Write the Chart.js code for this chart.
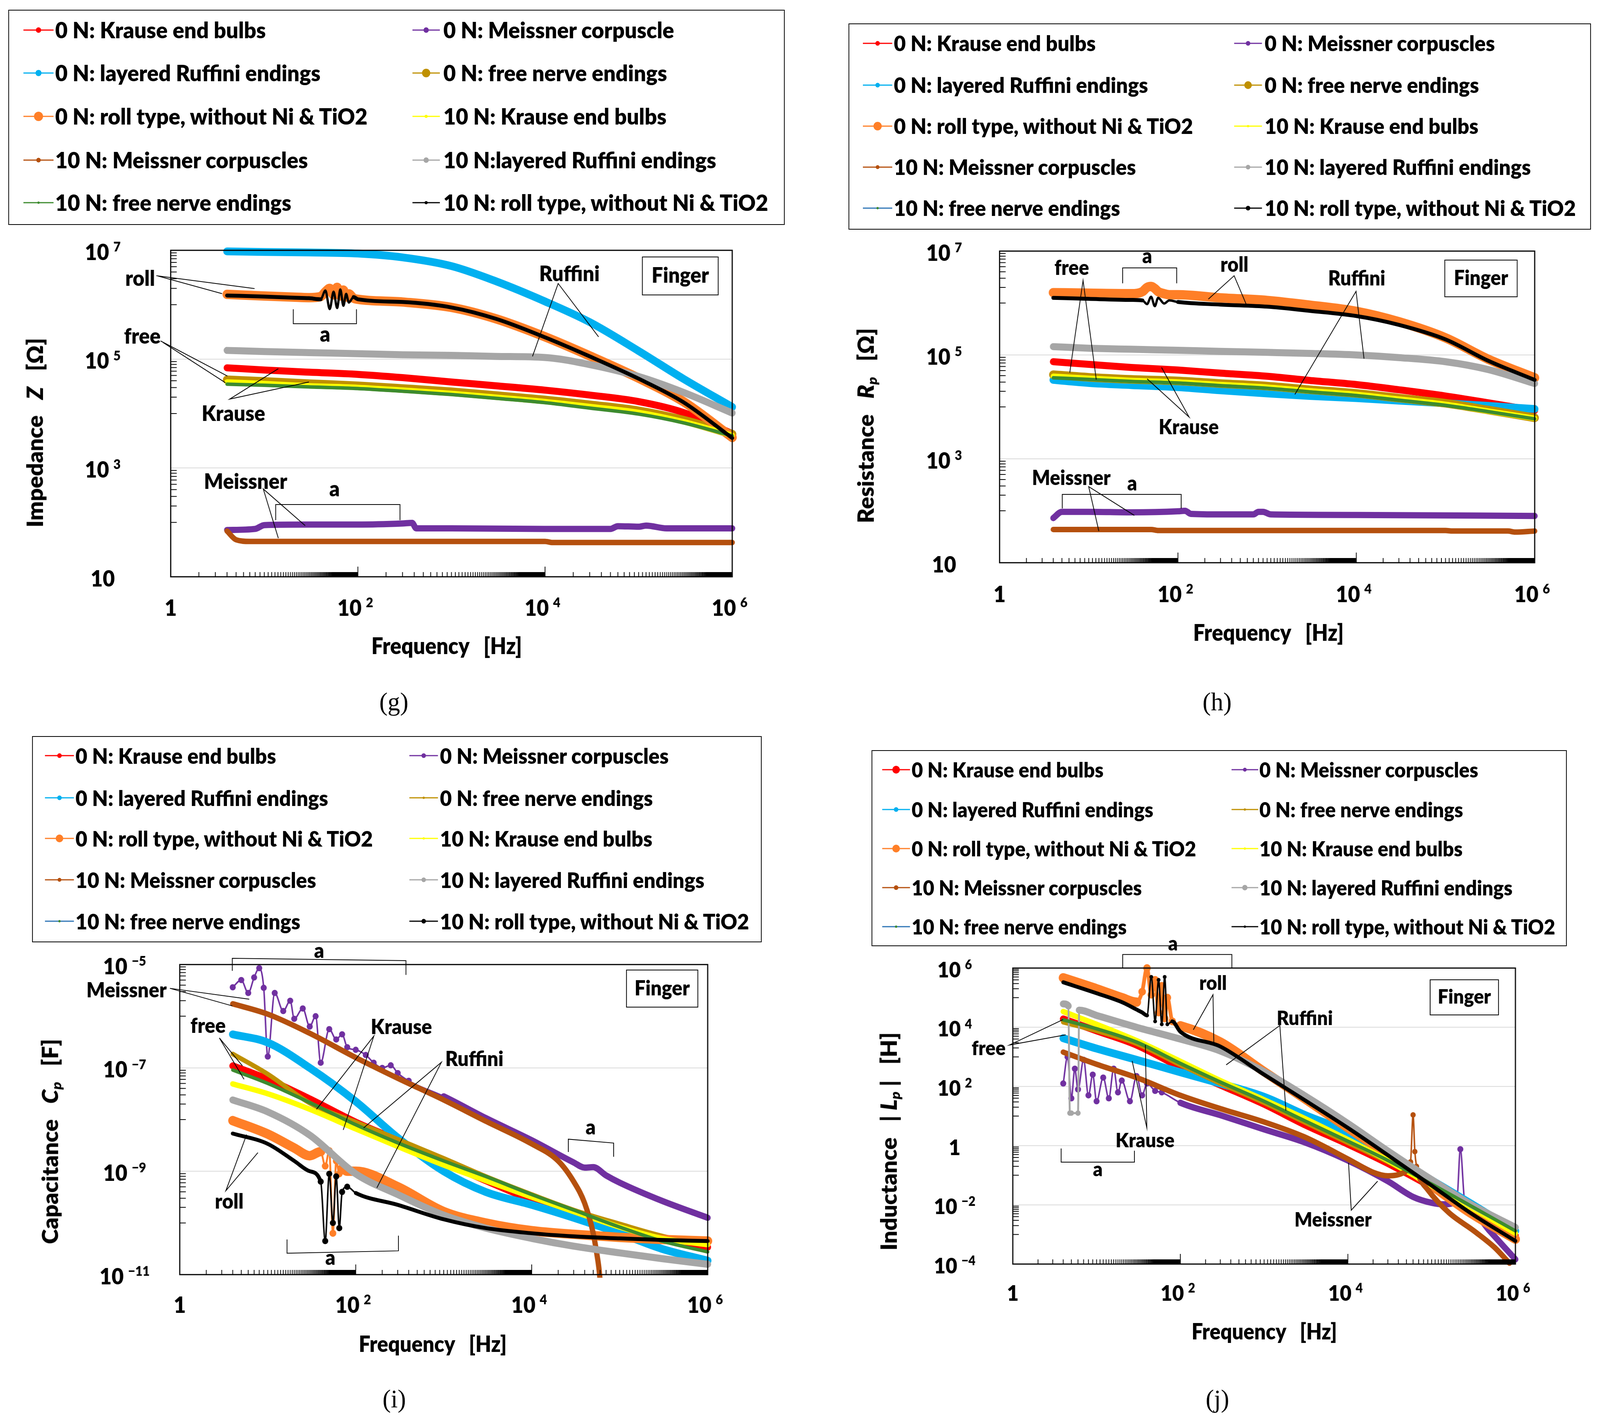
<!DOCTYPE html>
<html>
<head>
<meta charset="utf-8">
<title>Finger: impedance, resistance, capacitance, inductance</title>
<script src="https://cdn.jsdelivr.net/npm/chart.js@4.4.1/dist/chart.umd.min.js"></script>
<style>
html,body{margin:0;padding:0;background:#fff;overflow:hidden;}
#root{position:absolute;left:0;top:0;width:4237px;height:3644px;overflow:hidden;font-family:Lato,"Open Sans",sans-serif;color:#000;transform-origin:0 0;background:#fff;}
canvas{position:absolute;}
.lbox{position:absolute;border:2px solid #000;box-sizing:border-box;}
.ltxt{position:absolute;white-space:pre;font-weight:800;line-height:1;transform-origin:0 50%;}
.ctxt{position:absolute;white-space:pre;font-weight:800;line-height:1;}
.plabel{position:absolute;font-family:"Liberation Serif","DejaVu Serif",serif;font-size:66px;line-height:1;transform:translate(-50%,-50%);}
sub{font-size:0.62em;vertical-align:-0.22em;}
</style>
</head>
<body>
<div id="root"></div>
<script>
// ================= DATA =================
// All series values are log10 of the plotted quantity.
const FREQ = [4, 10, 30, 100, 300, 1e3, 3e3, 1e4, 3e4, 1e5, 3e5, 1e6];   // Hz

const X_TICKS = [1, 1e2, 1e4, 1e6];
const X_TICK_EXP = [0, 2, 4, 6];
const Y_TICKS_GH = [1e7, 1e5, 1e3, 1e1];
const Y_TICK_EXP_GH = [7, 5, 3, 1];
const Y_TICKS_I = [1e-5, 1e-7, 1e-9, 1e-11];
const Y_TICK_EXP_I = [-5, -7, -9, -11];
const Y_TICKS_J = [1e6, 1e4, 1e2, 1, 1e-2, 1e-4];
const Y_TICK_EXP_J = [6, 4, 2, 0, -2, -4];

const LABELS_G = ["0 N: Krause end bulbs", "0 N: Meissner corpuscle", "0 N: layered Ruffini endings", "0 N: free nerve endings",
  "0 N: roll type, without Ni & TiO2", "10 N: Krause end bulbs", "10 N: Meissner corpuscles", "10 N:layered Ruffini endings",
  "10 N: free nerve endings", "10 N: roll type, without Ni & TiO2"];
const LABELS_HIJ = ["0 N: Krause end bulbs", "0 N: Meissner corpuscles", "0 N: layered Ruffini endings", "0 N: free nerve endings",
  "0 N: roll type, without Ni & TiO2", "10 N: Krause end bulbs", "10 N: Meissner corpuscles", "10 N: layered Ruffini endings",
  "10 N: free nerve endings", "10 N: roll type, without Ni & TiO2"];

// ---------- (g) Impedance Z [Ohm] ----------
const G_KRAUSE_0 = [4.84, 4.80, 4.76, 4.72, 4.66, 4.58, 4.51, 4.43, 4.34, 4.22, 4.02, 3.63];
const G_MEISS_0_F = [4, 8, 10, 30, 100, 300, 380, 420, 1e3, 1e4, 5e4, 6e4, 1e5, 1.2e5, 2e5, 1e6];
const G_MEISS_0 = [1.86, 1.88, 1.95, 1.96, 1.96, 1.98, 1.99, 1.89, 1.89, 1.88, 1.88, 1.93, 1.92, 1.94, 1.89, 1.89];
const G_RUFF_0 = [6.98, 6.97, 6.96, 6.94, 6.87, 6.71, 6.43, 6.06, 5.68, 5.15, 4.64, 4.12];
const G_FREE_0 = [4.62, 4.59, 4.55, 4.51, 4.46, 4.40, 4.33, 4.25, 4.16, 4.05, 3.88, 3.62];
const G_ROLL_F = [4, 10, 20, 30, 40, 45, 50, 55, 60, 65, 70, 75, 80, 90, 100, 300, 1e3, 3e3, 1e4, 3e4, 1e5, 3e5, 1e6];
const G_ROLL_0 = [6.19, 6.16, 6.14, 6.13, 6.15, 6.24, 6.30, 6.18, 6.32, 6.16, 6.27, 6.14, 6.20, 6.12, 6.10, 6.05, 5.95, 5.74, 5.41, 5.06, 4.65, 4.22, 3.56];
const G_KRAUSE_10 = [4.58, 4.55, 4.51, 4.48, 4.43, 4.37, 4.30, 4.22, 4.13, 4.02, 3.85, 3.60];
const G_MEISS_10_F = [4, 5, 7, 100, 1e4, 1.2e4, 1e6];
const G_MEISS_10 = [1.84, 1.68, 1.65, 1.65, 1.65, 1.63, 1.63];
const G_RUFF_10 = [5.16, 5.14, 5.12, 5.10, 5.08, 5.07, 5.05, 5.03, 4.90, 4.68, 4.39, 4.01];
const G_FREE_10 = [4.54, 4.52, 4.49, 4.46, 4.41, 4.35, 4.28, 4.20, 4.10, 3.99, 3.83, 3.59];
const G_ROLL_10 = [6.17, 6.15, 6.13, 6.12, 6.10, 6.26, 5.92, 6.24, 5.94, 6.28, 5.98, 6.20, 6.04, 6.14, 6.10, 6.05, 5.95, 5.74, 5.40, 5.05, 4.64, 4.21, 3.55];

// ---------- (h) Resistance Rp [Ohm] ----------
const H_KRAUSE_0 = [4.87, 4.82, 4.76, 4.71, 4.65, 4.59, 4.51, 4.43, 4.33, 4.21, 4.08, 3.93];
const H_MEISS_0_F = [4, 5, 10, 30, 100, 120, 140, 300, 700, 800, 900, 1100, 1e4, 1e6];
const H_MEISS_0 = [1.86, 1.98, 1.98, 1.97, 1.99, 2.00, 1.94, 1.93, 1.93, 1.98, 1.98, 1.93, 1.92, 1.90];
const H_RUFF_0 = [4.52, 4.46, 4.42, 4.38, 4.32, 4.26, 4.21, 4.17, 4.12, 4.07, 4.02, 3.96];
const H_FREE_0 = [4.62, 4.57, 4.53, 4.50, 4.45, 4.40, 4.33, 4.26, 4.17, 4.07, 3.94, 3.79];
const H_ROLL_F = [4, 10, 30, 40, 45, 50, 55, 60, 70, 80, 100, 300, 1e3, 3e3, 1e4, 3e4, 1e5, 3e5, 1e6];
const H_ROLL_0 = [6.20, 6.19, 6.18, 6.22, 6.30, 6.32, 6.28, 6.22, 6.18, 6.16, 6.16, 6.10, 6.05, 5.96, 5.84, 5.64, 5.33, 4.92, 4.56];
const H_KRAUSE_10 = [4.59, 4.55, 4.51, 4.48, 4.43, 4.38, 4.31, 4.24, 4.15, 4.05, 3.92, 3.78];
const H_MEISS_10_F = [4, 50, 60, 1e5, 1.2e5, 5e5, 6e5, 1e6];
const H_MEISS_10 = [1.64, 1.64, 1.62, 1.62, 1.61, 1.61, 1.59, 1.61];
const H_RUFF_10 = [5.16, 5.13, 5.11, 5.09, 5.07, 5.05, 5.03, 5.00, 4.95, 4.87, 4.72, 4.45];
const H_FREE_10 = [4.56, 4.53, 4.49, 4.46, 4.41, 4.36, 4.29, 4.22, 4.13, 4.03, 3.91, 3.77];
const H_ROLL_10 = [6.10, 6.08, 6.06, 6.05, 5.98, 6.12, 5.94, 6.10, 5.99, 6.05, 6.02, 5.97, 5.93, 5.85, 5.75, 5.58, 5.30, 4.89, 4.52];

// ---------- (i) Capacitance Cp [F] ----------
const I_KRAUSE_0 = [-6.96, -7.22, -7.60, -8.05, -8.40, -8.82, -9.18, -9.55, -9.82, -10.07, -10.30, -10.47];
const I_MEISS_0_F = [4, 5, 6, 7, 8, 9, 10, 12, 15, 18, 20, 25, 30, 35, 40, 50, 60, 70, 80, 100, 130, 160, 200, 250, 300, 400, 1e3, 3e3, 1e4, 3e4, 4e4, 5e4, 7e4, 1e5, 3e5, 1e6];
const I_MEISS_0 = [-5.44, -5.30, -5.55, -5.25, -5.07, -5.45, -6.78, -5.55, -5.90, -5.70, -6.05, -5.85, -6.20, -6.00, -6.90, -6.25, -6.45, -6.35, -6.60, -6.65, -6.75, -6.90, -7.00, -6.95, -7.10, -7.25, -7.55, -7.97, -8.40, -8.83, -8.93, -8.92, -9.08, -9.22, -9.57, -9.90];
const I_RUFF_0 = [-6.35, -6.51, -7.00, -7.65, -8.35, -9.00, -9.40, -9.65, -9.90, -10.20, -10.50, -10.73];
const I_FREE_0 = [-6.73, -7.12, -7.68, -8.05, -8.38, -8.75, -9.10, -9.45, -9.75, -10.02, -10.25, -10.43];
const I_ROLL_F = [4, 10, 20, 30, 40, 45, 50, 55, 60, 65, 70, 80, 100, 300, 1e3, 3e3, 1e4, 3e4, 1e5, 3e5, 1e6];
const I_ROLL_0 = [-8.02, -8.28, -8.55, -8.70, -8.62, -8.90, -8.60, -10.20, -8.80, -9.05, -8.95, -9.00, -9.00, -9.30, -9.78, -10.00, -10.15, -10.22, -10.28, -10.32, -10.35];
const I_KRAUSE_10 = [-7.31, -7.50, -7.80, -8.18, -8.52, -8.88, -9.18, -9.50, -9.78, -10.08, -10.30, -10.42];
const I_MEISS_10_F = [4, 10, 30, 100, 300, 1e3, 3e3, 1e4, 2e4, 3e4, 4e4, 5e4, 5.5e4, 5.8e4, 6.2e4];
const I_MEISS_10 = [-5.76, -5.96, -6.33, -6.80, -7.20, -7.62, -8.03, -8.47, -8.80, -9.20, -9.62, -10.20, -10.60, -10.87, -11.40];
const I_RUFF_10 = [-7.62, -7.85, -8.30, -9.05, -9.45, -9.85, -10.10, -10.30, -10.45, -10.58, -10.69, -10.80];
const I_FREE_10 = [-7.04, -7.30, -7.67, -8.10, -8.45, -8.80, -9.10, -9.45, -9.75, -10.08, -10.35, -10.56];
const I_ROLL_10 = [-8.27, -8.47, -8.80, -9.00, -9.20, -10.35, -9.05, -10.00, -9.10, -10.10, -9.40, -9.30, -9.42, -9.65, -9.93, -10.10, -10.20, -10.26, -10.30, -10.33, -10.35];

// ---------- (j) Inductance |Lp| [H] ----------
const J_KRAUSE_0 = [4.28, 3.88, 3.40, 2.65, 2.05, 1.40, 0.72, 0.05, -0.60, -1.40, -2.20, -3.04];
const J_MEISS_0_F = [4, 4.5, 5, 5.5, 6, 7, 8, 9, 10, 12, 14, 16, 18, 20, 25, 30, 35, 40, 50, 60, 100, 300, 1e3, 3e3, 1e4, 3e4, 6e4, 1e5, 1.4e5, 2e5, 2.2e5, 2.5e5, 3e5, 5e5, 1e6];
const J_MEISS_0 = [2.10, 3.00, 1.60, 2.60, 1.90, 2.90, 1.70, 2.40, 1.50, 2.30, 1.60, 2.60, 1.80, 2.20, 1.50, 2.35, 1.70, 2.10, 1.85, 1.80, 1.45, 1.03, 0.55, 0.12, -0.50, -1.20, -1.73, -1.93, -1.98, -1.85, -0.12, -2.00, -2.20, -2.90, -3.84];
const J_RUFF_0 = [3.63, 3.28, 2.90, 2.48, 2.10, 1.65, 1.05, 0.45, -0.30, -1.17, -1.97, -2.88];
const J_FREE_0 = [4.17, 3.88, 3.45, 2.73, 2.10, 1.45, 0.80, 0.10, -0.55, -1.35, -2.10, -2.92];
const J_ROLL_F = [4, 10, 20, 30, 35, 40, 45, 50, 55, 60, 65, 70, 80, 100, 300, 1e3, 3e3, 1e4, 3e4, 1e5, 3e5, 1e6];
const J_ROLL_0 = [5.67, 5.30, 5.00, 4.85, 5.20, 6.00, 5.10, 5.60, 4.50, 5.40, 4.30, 5.00, 4.20, 4.05, 3.50, 2.50, 1.60, 0.60, -0.30, -1.35, -2.30, -3.16];
const J_KRAUSE_10 = [4.53, 4.10, 3.55, 2.85, 2.20, 1.55, 0.93, 0.20, -0.50, -1.35, -2.10, -2.96];
const J_MEISS_10_F = [4, 10, 30, 100, 300, 1e3, 3e3, 1e4, 2e4, 3e4, 4e4, 5e4, 5.6e4, 6e4, 6.3e4, 6.6e4, 7e4, 9e4, 1.6e5, 3.2e5, 5.6e5, 8.5e5];
const J_MEISS_10 = [3.16, 2.75, 2.30, 1.70, 1.25, 0.80, 0.30, -0.45, -0.90, -1.02, -0.98, -0.85, -0.55, 1.04, -0.20, -0.70, -1.00, -1.49, -2.26, -2.88, -3.43, -3.97];
const J_RUFF_10_F = [4, 4.6, 4.8, 5.0, 6.0, 6.2, 10, 30, 100, 300, 1e3, 3e3, 1e4, 3e4, 1e5, 3e5, 1e6];
const J_RUFF_10 = [4.79, 4.72, 1.10, 1.10, 1.10, 4.58, 4.40, 4.00, 3.60, 3.20, 2.50, 1.70, 0.75, -0.18, -1.15, -2.00, -2.76];
const J_FREE_10 = [4.25, 3.95, 3.50, 2.78, 2.15, 1.50, 0.85, 0.15, -0.50, -1.30, -2.05, -2.88];
const J_ROLL_10 = [5.52, 5.15, 4.85, 4.60, 4.50, 4.40, 5.70, 4.20, 5.60, 4.10, 5.70, 4.10, 4.20, 3.85, 3.35, 2.40, 1.55, 0.60, -0.32, -1.35, -2.30, -3.22];

// ================= STYLE =================
const KEYS = ['K0', 'M0', 'R0', 'F0', 'O0', 'K10', 'M10', 'R10', 'F10', 'O10'];
const COLORS = {K0:'#FF0000', M0:'#7030A0', R0:'#00B0F0', F0:'#BF9000', O0:'#FF7F27', K10:'#FFFF00', M10:'#B5500E', R10:'#A6A6A6', F10:'#3D8B2F', O10:'#000000'};
const WIDTHS = {K0:18, M0:16, R0:20, F0:22, O0:24, K10:14, M10:14, R10:18, F10:9, O10:10};
const FONT = 'Lato';
const W = 800;
const SX = 0.97;
const ROOT = document.getElementById('root');

function txt(ctx, s, x, y, fs, sx) {
  ctx.save(); ctx.translate(x, y); ctx.scale(sx, 1);
  ctx.font = W + ' ' + fs + 'px ' + FONT;
  ctx.textAlign = 'left'; ctx.textBaseline = 'alphabetic'; ctx.fillStyle = '#000';
  ctx.fillText(s, 0, 0); ctx.restore();
}
function width(ctx, s, fs) { ctx.font = W + ' ' + fs + 'px ' + FONT; return ctx.measureText(s).width; }
function txtC(ctx, s, cx, cy, fs, sx) {
  const w = width(ctx, s, fs) * sx;
  const k = (s === 'a') ? 0.26 : 0.36;
  txt(ctx, s, cx - w / 2, cy + fs * k, fs, sx);
}
function drawPow(ctx, exp, cx, cy, fs, sx) {
  let main = '10', sup = null;
  if (exp === 0) main = '1'; else if (exp !== 1) sup = exp < 0 ? '\u2212' + (-exp) : String(exp);
  const sfs = Math.round(fs * 0.6);
  const mw = width(ctx, main, fs) * sx;
  let sw = 0, gap = 0;
  if (sup) { sw = width(ctx, sup, sfs) * sx; gap = fs * 0.2; }
  const x0 = cx - (mw + gap + sw) / 2;
  const base = cy + fs * 0.36;
  txt(ctx, main, x0, base, fs, sx);
  if (sup) txt(ctx, sup, x0 + mw + gap, base - fs * 0.38, sfs, sx);
}

function panelPlugin(P) {
  return {
    id: 'panel_' + P.id,
    beforeDatasetsDraw(chart) {
      const {ctx, chartArea: a, scales: {y}} = chart;
      ctx.save(); ctx.strokeStyle = '#D9D9D9'; ctx.lineWidth = 2;
      P.grid.forEach(v => { const py = y.getPixelForValue(v); ctx.beginPath(); ctx.moveTo(a.left, py); ctx.lineTo(a.right, py); ctx.stroke(); });
      ctx.restore();
    },
    afterDatasetsDraw(chart) {
      const {ctx, chartArea: a, scales: {x, y}} = chart;
      const X = lf => x.getPixelForValue(Math.pow(10, lf));
      const Y = lv => y.getPixelForValue(Math.pow(10, lv));
      ctx.save();
      ctx.strokeStyle = '#000'; ctx.lineWidth = 2; ctx.beginPath();
      [1, 1e2, 1e4].forEach(b => {
        for (let k = 2; k <= 99; k++) { const px = x.getPixelForValue(k * b); ctx.moveTo(px, a.bottom); ctx.lineTo(px, a.bottom - 12); }
      });
      [1e2, 1e4].forEach(v => { const px = x.getPixelForValue(v); ctx.moveTo(px, a.bottom); ctx.lineTo(px, a.bottom - 26); });
      for (let L = P.ymin; L < P.ymax; L *= 100) {
        for (let k = 1; k <= 9; k++) { const py = y.getPixelForValue(k * L * 10); ctx.moveTo(a.left, py); ctx.lineTo(a.left + 16, py); }
      }
      ctx.stroke();
      ctx.lineWidth = 3; ctx.strokeRect(a.left, a.top, a.right - a.left, a.bottom - a.top);
      P.yt.forEach((v, i) => drawPow(ctx, P.ye[i], a.left - P.ylabX, y.getPixelForValue(v) + 4, P.tfs, SX));
      X_TICKS.forEach((v, i) => drawPow(ctx, X_TICK_EXP[i], x.getPixelForValue(v) - (X_TICK_EXP[i] ? P.tfs * 0.12 : 0), a.bottom + P.xlabDy, P.tfs, SX));
      ctx.lineWidth = 2; ctx.strokeStyle = '#000';
      P.ann.lines.forEach(pl => {
        ctx.beginPath();
        for (let i = 0; i < pl.length; i += 2) { const px = X(pl[i]), py = Y(pl[i + 1]); if (i === 0) ctx.moveTo(px, py); else ctx.lineTo(px, py); }
        ctx.stroke();
      });
      P.ann.texts.forEach(t => txtC(ctx, t[0], X(t[1]), Y(t[2]), P.afs, SX));
      const f = P.ann.finger;
      const fx0 = X(f[0]), fy0 = Y(f[1]), fx1 = X(f[2]), fy1 = Y(f[3]);
      ctx.fillStyle = '#fff'; ctx.fillRect(fx0, fy0, fx1 - fx0, fy1 - fy0);
      ctx.lineWidth = 2; ctx.strokeRect(fx0, fy0, fx1 - fx0, fy1 - fy0);
      txtC(ctx, 'Finger', (fx0 + fx1) / 2, (fy0 + fy1) / 2 - 2, P.afs, SX);
      ctx.restore();
    }
  };
}

function makeDataset(key, f, v, idx, P) {
  const data = f.map((fx, i) => ({x: fx, y: Math.pow(10, v[i])}));
  const c = COLORS[key];
  const w = (P.widths && P.widths[key]) || WIDTHS[key];
  const nz = P.noise && P.noise[key];
  const ds = {
    label: key, data: data, borderColor: c, backgroundColor: c, borderWidth: w,
    pointRadius: 0, pointHoverRadius: 0, pointBorderWidth: 0, pointBackgroundColor: c,
    cubicInterpolationMode: 'monotone', order: 9 - idx,
    borderCapStyle: 'round', borderJoinStyle: 'round',
    clip: {left: 30, right: 30, top: 10, bottom: 8}
  };
  if (nz) {
    const inR = fx => nz.r.some(r => fx >= r[0] && fx <= r[1]);
    const segIn = fx => nz.r.some(r => fx >= r[0] && fx < r[1]);
    ds.pointRadius = ctx => (ctx.raw && inR(ctx.raw.x)) ? (nz.pr || 0) : 0;
    ds.segment = { borderWidth: s => segIn(data[s.p0DataIndex].x) ? nz.tw : undefined };
  }
  return ds;
}

function makeLegend(L, labels) {
  const box = document.createElement('div'); box.className = 'lbox';
  box.style.left = L.box[0] + 'px'; box.style.top = L.box[1] + 'px';
  box.style.width = (L.box[2] - L.box[0]) + 'px'; box.style.height = (L.box[3] - L.box[1]) + 'px';
  ROOT.appendChild(box);
  const mc = document.createElement('canvas').getContext('2d');
  mc.font = W + ' ' + L.fs + 'px ' + FONT;
  const sx = L.target / mc.measureText('0 N: roll type, without Ni & TiO2').width;
  labels.forEach((lab, idx) => {
    const col = idx % 2, row = Math.floor(idx / 2);
    const cy = L.rows[row];
    const s = col ? L.sym2 : L.sym1;
    const sw = s[1] - s[0];
    const sym = L.syms[idx];
    const d = document.createElement('div');
    d.style.position = 'absolute'; d.style.left = s[0] + 'px'; d.style.top = (cy - 20) + 'px';
    d.innerHTML = '<svg width="' + sw + '" height="40"><line x1="0" y1="20" x2="' + sw + '" y2="20" stroke="' + sym[0] + '" stroke-width="3"/>' +
      '<circle cx="' + (sw / 2) + '" cy="20" r="' + sym[2] + '" fill="' + sym[1] + '"/></svg>';
    ROOT.appendChild(d);
    const t = document.createElement('div'); t.className = 'ltxt'; t.textContent = lab;
    t.style.left = (col ? L.tx2 : L.tx1) + 'px'; t.style.top = cy + 'px'; t.style.fontSize = L.fs + 'px';
    t.style.transform = 'translateY(-50%) scaleX(' + sx.toFixed(4) + ')';
    ROOT.appendChild(t);
  });
}

function htmlText(html, cx, cy, fs, rot, sx) {
  const d = document.createElement('div'); d.className = 'ctxt'; d.innerHTML = html;
  d.style.left = cx + 'px'; d.style.top = cy + 'px'; d.style.fontSize = fs + 'px';
  d.style.transform = 'translate(-50%,-50%)' + (rot ? ' rotate(-90deg)' : '') + ' scaleX(' + sx + ')';
  ROOT.appendChild(d);
}

const RED = '#FF0000', PUR = '#7030A0', CYA = '#00B0F0', GLD = '#BF9000', ORA = '#FF7F27', YEL = '#FFFF00', BRN = '#B5500E', GRY = '#A6A6A6', GRN = '#3D8B2F', BLU = '#2E75B6', BLK = '#000000';

const PANELS = [
  { id: 'g', canvas: [0, 590, 2118, 1040], plot: [452, 641, 1939, 1477], ymin: 1e1, ymax: 1e7, grid: [1e3, 1e5],
    yt: Y_TICKS_GH, ye: Y_TICK_EXP_GH, ylabX: 180, xlabDy: 79, tfs: 57, afs: 55,
    series: [[FREQ, G_KRAUSE_0], [G_MEISS_0_F, G_MEISS_0], [FREQ, G_RUFF_0], [FREQ, G_FREE_0], [G_ROLL_F, G_ROLL_0],
             [FREQ, G_KRAUSE_10], [G_MEISS_10_F, G_MEISS_10], [FREQ, G_RUFF_10], [FREQ, G_FREE_10], [G_ROLL_F, G_ROLL_10]],
    noise: { O10: {r: [[40, 85]], tw: 6, pr: 0} },
    labels: LABELS_G,
    legend: { box: [22, 25, 2078, 576], rows: [77, 187, 298, 410, 519], sym1: [62, 142], tx1: 146, sym2: [1092, 1165], tx2: 1174, fs: 56, target: 830,
      syms: [[RED, RED, 7], [PUR, PUR, 7], [CYA, CYA, 8], [GLD, GLD, 11], [ORA, ORA, 12], [YEL, YEL, 4], [BRN, BRN, 6], [GRY, GRY, 7], [GRN, GRN, 3], [BLK, BLK, 4]] },
    xt: [1183, 1653, 58], ytl: [92, 1108, 58, 'Impedance   <i>Z</i>   [Ω]'], lab: [1043, 1797, '(g)'],
    ann: {
      texts: [['roll', -0.327, 6.49], ['free', -0.303, 5.43], ['Krause', 0.67, 4.007], ['Ruffini', 4.26, 6.576], ['Meissner', 0.80, 2.757], ['a', 1.65, 5.42], ['a', 1.75, 2.58]],
      lines: [[-0.153, 6.533, 0.896, 6.296], [-0.133, 6.526, 0.549, 6.203], [-0.109, 5.335, 0.605, 4.69], [-0.081, 5.306, 0.585, 4.566],
              [1.15, 4.825, 0.63, 4.265, 1.477, 4.58], [3.866, 5.05, 4.14, 6.39, 4.572, 5.41], [1.15, 1.71, 0.989, 2.614, 1.437, 1.94],
              [1.31, 5.916, 1.31, 5.65, 1.985, 5.65, 1.985, 5.916], [1.122, 2.04, 1.122, 2.327, 2.45, 2.327, 2.45, 2.04]],
      finger: [5.04, 6.878, 5.85, 6.18] } },
  { id: 'h', canvas: [2118, 590, 2119, 1010], plot: [2647, 643, 4064, 1441], ymin: 1e1, ymax: 1e7, grid: [1e3, 1e5],
    yt: Y_TICKS_GH, ye: Y_TICK_EXP_GH, ylabX: 147, xlabDy: 80, tfs: 57, afs: 52,
    series: [[FREQ, H_KRAUSE_0], [H_MEISS_0_F, H_MEISS_0], [FREQ, H_RUFF_0], [FREQ, H_FREE_0], [H_ROLL_F, H_ROLL_0],
             [FREQ, H_KRAUSE_10], [H_MEISS_10_F, H_MEISS_10], [FREQ, H_RUFF_10], [FREQ, H_FREE_10], [H_ROLL_F, H_ROLL_10]],
    noise: { O10: {r: [[40, 85]], tw: 6, pr: 0} },
    labels: LABELS_HIJ,
    legend: { box: [2247, 60, 4213, 588], rows: [111, 218, 323, 428, 533], sym1: [2285, 2363], tx1: 2367, sym2: [3268, 3342], tx2: 3349, fs: 54, target: 795,
      syms: [[RED, RED, 6], [PUR, PUR, 6], [CYA, CYA, 6], [GLD, GLD, 10], [ORA, ORA, 11], [YEL, YEL, 3], [BRN, BRN, 5], [GRY, GRY, 6], [BLU, GRN, 3], [BLK, BLK, 6]] },
    xt: [3359, 1619, 58], ytl: [2295, 1090, 58, 'Resistance   <i>R</i><sub><i>p</i></sub>   [Ω]'], lab: [3223, 1797, '(h)'],
    ann: {
      texts: [['free', 0.809, 6.684], ['roll', 2.633, 6.744], ['Ruffini', 4.005, 6.481], ['Krause', 2.121, 3.617], ['Meissner', 0.804, 2.639], ['a', 1.655, 6.872], ['a', 1.486, 2.496]],
      lines: [[0.787, 4.66, 0.936, 6.436, 1.084, 4.526], [2.341, 6.075, 2.63, 6.526, 2.769, 5.962], [3.311, 4.24, 3.997, 6.226, 4.086, 4.93],
              [1.655, 4.54, 2.125, 3.805, 1.816, 4.76], [1.113, 1.609, 0.999, 2.466, 1.511, 1.91],
              [1.38, 6.38, 1.38, 6.677, 1.986, 6.677, 1.986, 6.38], [0.703, 2.045, 0.703, 2.316, 2.036, 2.316, 2.036, 2.045]],
      finger: [4.992, 6.827, 5.804, 6.12] } },
  { id: 'i', canvas: [0, 2380, 2118, 1035], plot: [476, 2470, 1874, 3264], ymin: 1e-11, ymax: 1e-5, grid: [1e-9, 1e-7],
    yt: Y_TICKS_I, ye: Y_TICK_EXP_I, ylabX: 146, xlabDy: 77, tfs: 57, afs: 53,
    series: [[FREQ, I_KRAUSE_0], [I_MEISS_0_F, I_MEISS_0], [FREQ, I_RUFF_0], [FREQ, I_FREE_0], [I_ROLL_F, I_ROLL_0],
             [FREQ, I_KRAUSE_10], [I_MEISS_10_F, I_MEISS_10], [FREQ, I_RUFF_10], [FREQ, I_FREE_10], [I_ROLL_F, I_ROLL_10]],
    widths: { F0: 12 },
    noise: { M0: {r: [[4, 450]], tw: 4, pr: 8}, O10: {r: [[35, 90]], tw: 4, pr: 8}, O0: {r: [[40, 70]], tw: 5, pr: 9} },
    labels: LABELS_HIJ,
    legend: { box: [85, 1885, 2017, 2413], rows: [1935, 2043, 2147, 2253, 2359], sym1: [119, 196], tx1: 200, sym2: [1084, 1160], tx2: 1165, fs: 55, target: 790,
      syms: [[RED, RED, 6], [PUR, PUR, 6], [CYA, CYA, 6], [GLD, GLD, 3], [ORA, ORA, 10], [YEL, YEL, 3], [BRN, BRN, 5], [GRY, GRY, 6], [BLU, GRN, 3], [BLK, BLK, 6]] },
    xt: [1146, 3440, 57], ytl: [135, 2923, 58, 'Capacitance   <i>C</i><sub><i>p</i></sub>   [F]'], lab: [1044, 3582, '(i)'],
    ann: {
      texts: [['Meissner', -0.605, -5.49], ['free', 0.322, -6.18], ['Krause', 2.519, -6.20], ['Ruffini', 3.348, -6.82], ['roll', 0.562, -9.58], ['a', 1.584, -4.766], ['a', 1.712, -10.707], ['a', 4.67, -8.18]],
      lines: [[0.79, -5.67, -0.112, -5.46, 0.597, -5.8], [0.73, -7.22, 0.45, -6.42, 0.712, -6.96], [1.554, -7.80, 2.206, -6.383, 1.858, -8.20],
              [2.09, -8.16, 2.974, -6.89, 2.24, -9.32], [0.76, -8.29, 0.524, -9.376, 0.888, -8.64],
              [0.597, -5.12, 0.597, -4.88, 2.571, -4.925, 2.571, -5.2], [1.219, -10.32, 1.219, -10.586, 2.485, -10.54, 2.485, -10.246],
              [4.416, -8.628, 4.416, -8.379, 4.931, -8.454, 4.931, -8.719]],
      finger: [5.077, -5.106, 5.888, -5.824] } },
  { id: 'j', canvas: [2118, 2380, 2119, 1030], plot: [2682, 2479, 4013, 3237], ymin: 1e-4, ymax: 1e6, grid: [1e-2, 1, 1e2, 1e4],
    yt: Y_TICKS_J, ye: Y_TICK_EXP_J, ylabX: 154, xlabDy: 74, tfs: 55, afs: 51,
    series: [[FREQ, J_KRAUSE_0], [J_MEISS_0_F, J_MEISS_0], [FREQ, J_RUFF_0], [FREQ, J_FREE_0], [J_ROLL_F, J_ROLL_0],
             [FREQ, J_KRAUSE_10], [J_MEISS_10_F, J_MEISS_10], [J_RUFF_10_F, J_RUFF_10], [FREQ, J_FREE_10], [J_ROLL_F, J_ROLL_10]],
    widths: { F0: 12 },
    noise: { M0: {r: [[4, 65], [1.9e5, 2.6e5]], tw: 4, pr: 8}, O10: {r: [[40, 75]], tw: 4, pr: 5}, O0: {r: [[30, 85]], tw: 10, pr: 10},
             R10: {r: [[4.5, 6.1]], tw: 5, pr: 7}, M10: {r: [[5.5e4, 6.7e4]], tw: 4, pr: 7} },
    labels: LABELS_HIJ,
    legend: { box: [2308, 1921, 4149, 2423], rows: [1971, 2073, 2173, 2273, 2373], sym1: [2336, 2410], tx1: 2414, sym2: [3261, 3332], tx2: 3335, fs: 52, target: 756,
      syms: [[RED, RED, 10], [PUR, PUR, 5], [CYA, CYA, 6], [GLD, GLD, 3], [ORA, ORA, 10], [YEL, YEL, 3], [BRN, BRN, 6], [GRY, GRY, 7], [BLU, GRN, 3], [BLK, BLK, 3]] },
    xt: [3348, 3409, 56], ytl: [2356, 2923, 58, 'Inductance   | <i>L</i><sub><i>p</i></sub> |   [H]'], lab: [3224, 3582, '(j)'],
    ann: {
      texts: [['roll', 2.39, 5.50], ['Ruffini', 3.485, 4.31], ['free', -0.289, 3.295], ['Krause', 1.578, 0.182], ['Meissner', 3.823, -2.496], ['a', 1.912, 6.765], ['a', 1.014, -0.86]],
      lines: [[2.155, 3.915, 2.39, 5.10, 2.40, 3.48], [2.547, 2.73, 3.188, 4.06, 3.26, 1.185], [0.6, 4.26, -0.04, 3.4, 0.631, 3.745],
              [1.425, 2.86, 1.60, 0.604, 1.583, 3.4], [4.008, -0.583, 4.04, -2.18, 4.355, -1.20],
              [1.312, 6.0, 1.312, 6.46, 2.615, 6.46, 2.615, 6.0], [0.577, -0.095, 0.577, -0.557, 1.452, -0.557, 1.452, -0.17]],
      finger: [4.982, 5.604, 5.798, 4.417] } }
];

PANELS.forEach(P => {
  const cv = document.createElement('canvas');
  cv.width = P.canvas[2]; cv.height = P.canvas[3];
  cv.style.left = P.canvas[0] + 'px'; cv.style.top = P.canvas[1] + 'px';
  cv.style.width = P.canvas[2] + 'px'; cv.style.height = P.canvas[3] + 'px';
  ROOT.appendChild(cv);
  const pad = { left: P.plot[0] - P.canvas[0], top: P.plot[1] - P.canvas[1],
                right: P.canvas[0] + P.canvas[2] - P.plot[2], bottom: P.canvas[1] + P.canvas[3] - P.plot[3] };
  const datasets = P.series.map((s, i) => makeDataset(KEYS[i], s[0], s[1], i, P));
  new Chart(cv, {
    type: 'line',
    data: { datasets: datasets },
    options: {
      responsive: false, animation: false, devicePixelRatio: 1, events: [],
      layout: { padding: pad },
      plugins: { legend: { display: false }, tooltip: { enabled: false } },
      scales: {
        x: { type: 'logarithmic', min: 1, max: 1e6, display: false },
        y: { type: 'logarithmic', min: P.ymin, max: P.ymax, display: false }
      }
    },
    plugins: [panelPlugin(P)]
  });
  makeLegend(P.legend, P.labels);
  htmlText('Frequency   [Hz]', P.xt[0], P.xt[1], P.xt[2], false, 0.95);
  htmlText(P.ytl[3], P.ytl[0], P.ytl[1], P.ytl[2], true, 1);
  const lb = document.createElement('div'); lb.className = 'plabel'; lb.textContent = P.lab[2];
  lb.style.left = P.lab[0] + 'px'; lb.style.top = P.lab[1] + 'px';
  ROOT.appendChild(lb);
});

// fit the 4237 x 3644 layout into whatever viewport the page is shown in
function fitRoot() {
  const vw = window.innerWidth || 4237, vh = window.innerHeight || 3644;
  const sx = vw / 4237, sy = vh / 3644;
  ROOT.style.transform = (Math.abs(sx - 1) > 0.001 || Math.abs(sy - 1) > 0.001) ? 'scale(' + sx + ',' + sy + ')' : 'none';
}
fitRoot();
window.addEventListener('resize', fitRoot);
</script>
</body>
</html>
